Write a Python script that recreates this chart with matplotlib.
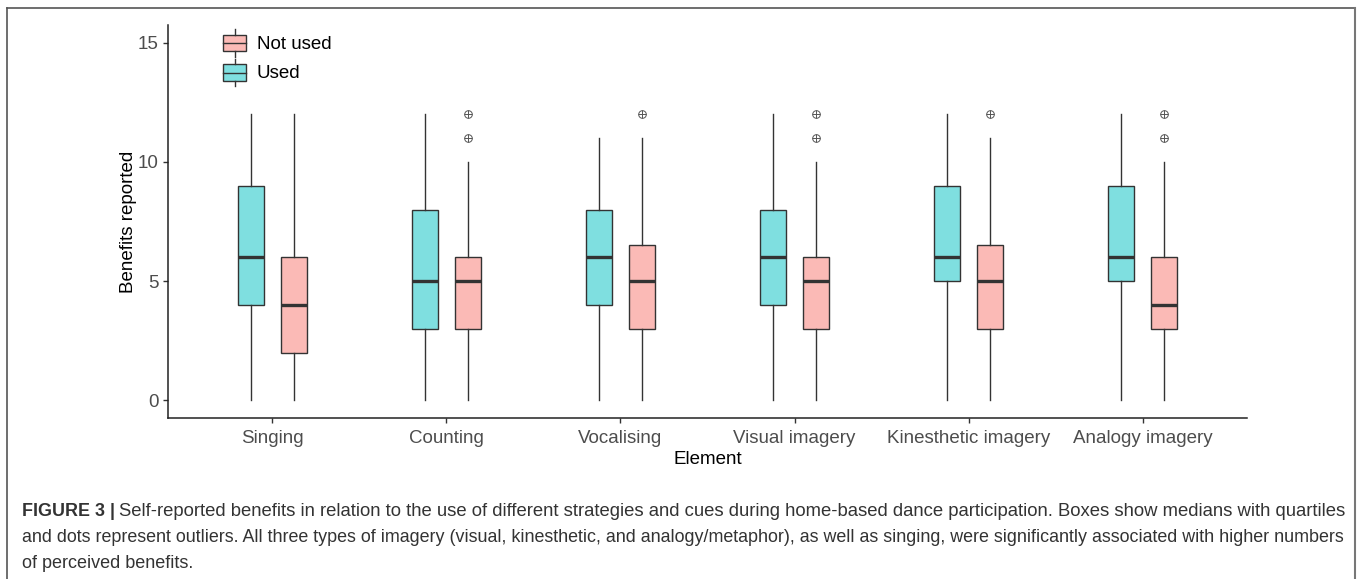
import matplotlib
matplotlib.use("Agg")
import matplotlib.pyplot as plt
from matplotlib.patches import Rectangle
from matplotlib.lines import Line2D
from matplotlib.legend_handler import HandlerBase

plt.rcParams['font.family'] = ['Liberation Sans', 'DejaVu Sans']

# data (box stats per element)
categories = ["Singing", "Counting", "Vocalising", "Visual imagery",
              "Kinesthetic imagery", "Analogy imagery"]
used_low = [0, 0, 0, 0, 0, 0]
used_q1 = [4, 3, 4, 4, 5, 5]
used_med = [6, 5, 6, 6, 6, 6]
used_q3 = [9, 8, 8, 8, 9, 9]
used_high = [12, 12, 11, 12, 12, 12]
used_out = [[], [], [], [], [], []]

not_low = [0, 0, 0, 0, 0, 0]
not_q1 = [2, 3, 3, 3, 3, 3]
not_med = [4, 5, 5, 5, 5, 4]
not_q3 = [6, 6, 6.5, 6, 6.5, 6]
not_high = [12, 10, 11, 10, 11, 10]
not_out = [[], [11, 12], [12], [11, 12], [12], [11, 12]]

col_used = '#7FDFE0'
col_not = '#FBBAB6'
edge = '#333333'


def make_stats(low, q1, med, q3, high, out):
    return [dict(whislo=low[i], q1=q1[i], med=med[i], q3=q3[i], whishi=high[i],
                 fliers=out[i]) for i in range(len(low))]


class BoxHandler(HandlerBase):
    # legend key that looks like a little boxplot
    def create_artists(self, legend, orig_handle, xdescent, ydescent,
                       width, height, fontsize, trans):
        x0, y0 = -xdescent, -ydescent
        r = Rectangle((x0, y0 + 0.2 * height), width, 0.6 * height,
                      facecolor=orig_handle.get_facecolor(), edgecolor=edge,
                      linewidth=1.0, transform=trans)
        m = Line2D([x0, x0 + width], [y0 + 0.5 * height] * 2, color=edge,
                   linewidth=1.0, transform=trans)
        w1 = Line2D([x0 + width / 2] * 2, [y0 + 0.8 * height, y0 + height],
                    color=edge, linewidth=1.0, transform=trans)
        w2 = Line2D([x0 + width / 2] * 2, [y0, y0 + 0.2 * height],
                    color=edge, linewidth=1.0, transform=trans)
        return [r, m, w1, w2]


W, H = 1358, 579
fig = plt.figure(figsize=(W / 100, H / 100), dpi=100)
ax = fig.add_axes([168 / W, 1 - 418 / H, (1247 - 168) / W, (418 - 25) / H])

pos = list(range(1, len(categories) + 1))
off = 0.125
bw = 0.15
common = dict(widths=bw, patch_artist=True, showcaps=False,
              whiskerprops=dict(color=edge, linewidth=1.0),
              medianprops=dict(color=edge, linewidth=2.4, solid_capstyle='butt'),
              flierprops=dict(marker='o', markersize=5.5, markerfacecolor='none',
                              markeredgecolor='#555555', markeredgewidth=0.7))

b1 = ax.bxp(make_stats(used_low, used_q1, used_med, used_q3, used_high, used_out),
            positions=[p - off for p in pos],
            boxprops=dict(facecolor=col_used, edgecolor=edge, linewidth=1.0), **common)
b2 = ax.bxp(make_stats(not_low, not_q1, not_med, not_q3, not_high, not_out),
            positions=[p + off for p in pos],
            boxprops=dict(facecolor=col_not, edgecolor=edge, linewidth=1.0), **common)

# cross inside the outlier circles
for i, o in enumerate(not_out):
    if o:
        ax.plot([pos[i] + off] * len(o), o, linestyle='none', marker='+',
                markersize=5.5, markeredgecolor='#555555', markeredgewidth=0.7)

ax.set_xlim(0.4, 6.6)
ax.set_ylim(-0.75, 15.75)
ax.set_xticks(pos)
ax.set_xticklabels(categories)
ax.set_yticks([0, 5, 10, 15])
ax.tick_params(colors='#333333', labelcolor='#4D4D4D', labelsize=13.5,
               length=3.5, width=1.0)
ax.tick_params(axis='x', pad=5)
ax.tick_params(axis='y', pad=3)
for s in ['top', 'right']:
    ax.spines[s].set_visible(False)
for s in ['left', 'bottom']:
    ax.spines[s].set_linewidth(1.1)
    ax.spines[s].set_color('#222222')
ax.set_xlabel('Element', fontsize=13.5, labelpad=3)
ax.set_ylabel('Benefits reported', fontsize=13.5, labelpad=1)

h_not = Rectangle((0, 0), 1, 1, facecolor=col_not)
h_used = Rectangle((0, 0), 1, 1, facecolor=col_used)
fig.legend([h_not, h_used], ['Not used', 'Used'],
           handler_map={Rectangle: BoxHandler()},
           loc='upper left', bbox_to_anchor=(223 / W, 1 - 29 / H),
           frameon=False, fontsize=13.5, borderpad=0, borderaxespad=0,
           handlelength=1.25, handleheight=1.9, labelspacing=0.1,
           handletextpad=0.55)

# outer frame of the figure panel
fig.add_artist(Line2D([7 / W, 7 / W], [0, 1 - 8 / H], color='#555555', linewidth=1.2))
fig.add_artist(Line2D([7 / W, 1355 / W], [1 - 8 / H, 1 - 8 / H], color='#555555', linewidth=1.2))
fig.add_artist(Line2D([1355 / W, 1355 / W], [0, 1 - 8 / H], color='#777777', linewidth=1.5))

# caption
cap_col = '#333333'
t1 = fig.text(22 / W, 1 - 511 / H, 'FIGURE 3 |', fontsize=12.9, fontweight='bold',
              color=cap_col, va='center')
fig.canvas.draw()
bb = t1.get_window_extent(fig.canvas.get_renderer())
fig.text(bb.x1 / W + 4 / W, 1 - 511 / H,
         'Self-reported benefits in relation to the use of different strategies and cues '
         'during home-based dance participation. Boxes show medians with quartiles',
         fontsize=13.3, color=cap_col, va='center')
fig.text(22 / W, 1 - 538 / H,
         'and dots represent outliers. All three types of imagery (visual, kinesthetic, and '
         'analogy/metaphor), as well as singing, were significantly associated with higher numbers',
         fontsize=12.85, color=cap_col, va='center')
fig.text(22 / W, 1 - 564 / H, 'of perceived benefits.', fontsize=13.0, color=cap_col,
         va='center')

fig.savefig('out.png', dpi=100)
